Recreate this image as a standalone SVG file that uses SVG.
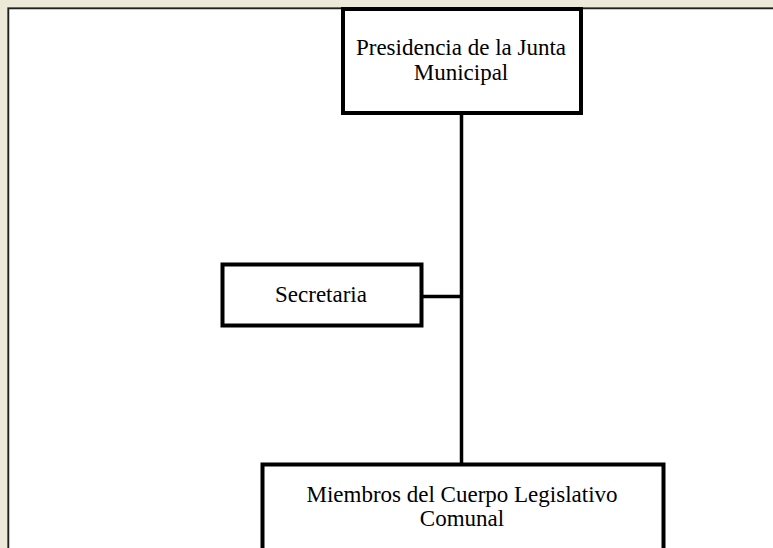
<svg xmlns="http://www.w3.org/2000/svg" width="773" height="548" viewBox="0 0 773 548">
<style>
.box{fill:#fff;stroke:#000;stroke-width:4}
.lbl{font-family:"Liberation Serif","Times New Roman",serif;font-size:23px;fill:#000;text-anchor:middle}
.con{stroke:#000;stroke-width:3.5;fill:none}
</style>
<rect width="773" height="548" fill="#ECE9D8"/>
<rect x="9" y="9" width="770" height="545" fill="#fff"/>
<path d="M7.5 548V7.5H773" stroke="#808080" stroke-width="1" fill="none"/>
<path d="M8.5 548V8.5H773" stroke="#202020" stroke-width="1.5" fill="none"/>
<g id="connectors">
<line class="con" x1="461.5" y1="113" x2="461.5" y2="464"/>
<line class="con" x1="423" y1="296.5" x2="461.5" y2="296.5"/>
</g>
<g id="presidencia">
<rect class="box" x="343" y="9" width="238" height="104"/>
<text class="lbl" x="461" y="55">Presidencia de la Junta</text>
<text class="lbl" x="461" y="80">Municipal</text>
</g>
<g id="secretaria">
<rect class="box" x="222.5" y="264.5" width="199" height="61"/>
<text class="lbl" x="321" y="302">Secretaria</text>
</g>
<g id="miembros">
<rect class="box" x="262.5" y="464.5" width="401" height="100"/>
<text class="lbl" x="462" y="502">Miembros del Cuerpo Legislativo</text>
<text class="lbl" x="462" y="526">Comunal</text>
</g>
</svg>
